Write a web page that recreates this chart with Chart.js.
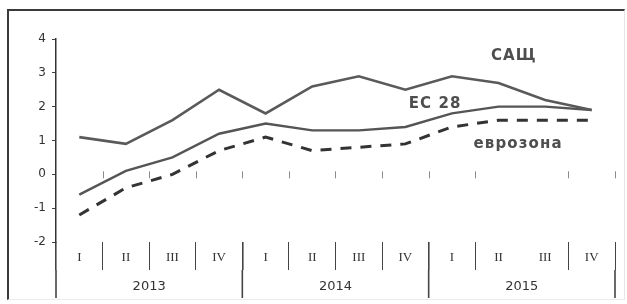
<!DOCTYPE html>
<html><head><meta charset="utf-8">
<script src="https://cdn.jsdelivr.net/npm/chart.js@4/dist/chart.umd.min.js"></script>
<style>
html,body{margin:0;padding:0;background:#fff;}
#wrap{position:relative;width:627px;height:304px;overflow:hidden;background:#fff;}
#frame{position:absolute;left:7px;top:9px;width:618px;height:291px;border-top:2px solid #3a3a3a;border-left:2px solid #3a3a3a;border-right:1px solid #e6e6e6;border-bottom:1px solid #ececec;box-sizing:border-box;pointer-events:none}
canvas{position:absolute;left:0;top:0}
</style></head><body>
<div id="wrap"><canvas id="c" width="627" height="304"></canvas><div id="frame"></div></div>
<script>
const quarters = ['I','II','III','IV','I','II','III','IV','I','II','III','IV'];
const years = ['2013','2014','2015'];
const quartersPerYear = 4;
const usa      = [1.1, 0.9, 1.6, 2.5, 1.8, 2.6, 2.9, 2.5, 2.9, 2.7, 2.2, 1.9];
const eu28     = [-0.6, 0.1, 0.5, 1.2, 1.5, 1.3, 1.3, 1.4, 1.8, 2.0, 2.0, 1.9];
const eurozone = [-1.2, -0.4, 0.0, 0.7, 1.1, 0.7, 0.8, 0.9, 1.4, 1.6, 1.6, 1.6];
const seriesNames = ['САЩ', 'ЕС 28', 'еврозона'];
const yMin = -2, yMax = 4, yStep = 1;

// label anchors in data coordinates (category index, value)
const labelAnchors = [
  {text: seriesNames[0], x: 9.33, y: 3.5},
  {text: seriesNames[1], x: 7.64, y: 2.07},
  {text: seriesNames[2], x: 9.42, y: 0.88}
];

const missingSep = 10; // separator not printed in the original
const yearSep = i => i % quartersPerYear === 0;

const seriesLabelPlugin = {
  id: 'seriesLabels',
  afterDraw(chart) {
    const {ctx, scales, chartArea} = chart;
    const x = scales.x, y = scales.y;
    const half = (x.getPixelForValue(1) - x.getPixelForValue(0)) / 2;
    const boundary = i => x.getPixelForValue(i) - half;
    ctx.save();
    // year separators (lower part) and year labels
    ctx.strokeStyle = '#444';
    ctx.lineWidth = 1.6;
    const yTop = chartArea.bottom + 28, yBot = chartArea.bottom + 56;
    for (let k = 0; k <= years.length; k++) {
      const px = boundary(k * quartersPerYear);
      ctx.beginPath(); ctx.moveTo(px, yTop); ctx.lineTo(px, yBot); ctx.stroke();
    }
    ctx.fillStyle = '#333';
    ctx.font = '13px "DejaVu Sans"';
    ctx.textAlign = 'center';
    ctx.textBaseline = 'middle';
    years.forEach((yr, k) => {
      const px = (boundary(k * quartersPerYear) + boundary((k + 1) * quartersPerYear)) / 2;
      ctx.fillText(yr, px, chartArea.bottom + 45);
    });
    // small tick marks along the zero line
    ctx.strokeStyle = '#8a8a8a';
    ctx.lineWidth = 1;
    const y0 = y.getPixelForValue(0);
    for (let i = 1; i <= quarters.length; i++) {
      if (i === missingSep) continue;
      const px = Math.round(boundary(i)) + 0.5;
      ctx.beginPath(); ctx.moveTo(px, y0 - 3); ctx.lineTo(px, y0 + 4); ctx.stroke();
    }
    // series name labels
    ctx.font = 'bold 15px "DejaVu Sans"';
    try { ctx.letterSpacing = '1.1px'; } catch (e) {}
    ctx.fillStyle = '#4e4e4e';
    labelAnchors.forEach(a => {
      ctx.fillText(a.text, x.getPixelForValue(a.x), y.getPixelForValue(a.y));
    });
    ctx.restore();
  }
};

new Chart(document.getElementById('c'), {
  type: 'line',
  data: {
    labels: quarters,
    datasets: [
      {label: seriesNames[0], data: usa, borderColor: '#5a5a5a', borderWidth: 2.6, pointRadius: 0, tension: 0, fill: false},
      {label: seriesNames[1], data: eu28, borderColor: '#555555', borderWidth: 2.4, pointRadius: 0, tension: 0, fill: false},
      {label: seriesNames[2], data: eurozone, borderColor: '#333333', borderWidth: 3, borderDash: [11, 9], pointRadius: 0, tension: 0, fill: false}
    ]
  },
  options: {
    responsive: false,
    animation: false,
    events: [],
    layout: {padding: {top: 39, right: 12, left: 0, bottom: 0}},
    plugins: {legend: {display: false}, tooltip: {enabled: false}},
    scales: {
      y: {
        min: yMin, max: yMax,
        afterFit: s => { s.width = 56; },
        ticks: {stepSize: yStep, color: '#333', font: {family: 'DejaVu Sans', size: 12}, padding: 6},
        grid: {drawOnChartArea: false, tickLength: 4, color: '#444', lineWidth: 1},
        border: {display: true, color: '#333', width: 1.5}
      },
      x: {
        type: 'category',
        offset: true,
        afterFit: s => { s.height = 62; },
        ticks: {color: '#333', font: {family: 'Liberation Serif', size: 13}, padding: -20, maxRotation: 0, autoSkip: false},
        grid: {
          offset: true, drawOnChartArea: false, tickLength: 28,
          color: c => c.index === missingSep ? 'rgba(0,0,0,0)' : '#444',
          lineWidth: c => yearSep(c.index) ? 1.6 : 1
        },
        border: {display: false}
      }
    }
  },
  plugins: [seriesLabelPlugin]
});
</script>
</body></html>
